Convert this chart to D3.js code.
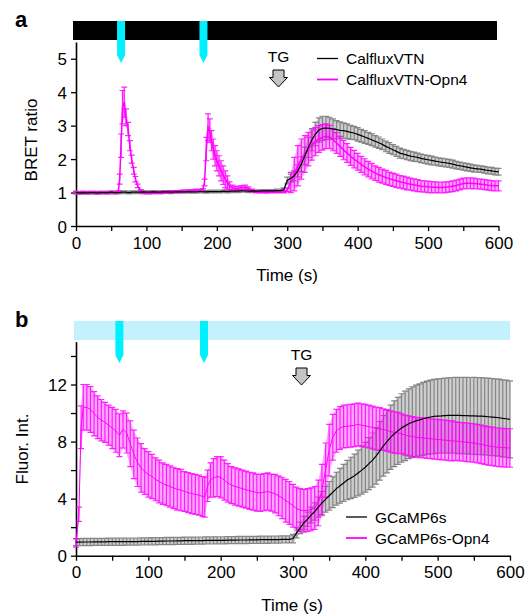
<!DOCTYPE html>
<html>
<head>
<meta charset="UTF-8">
<title>BRET and GCaMP6s traces</title>
<style>
  body { margin: 0; background: #fff; }
  svg text { font-family: "Liberation Sans", Arial, Helvetica, sans-serif; font-weight: normal; fill: #000; }
</style>
</head>
<body>
<script src="https://cdn.jsdelivr.net/npm/d3@7"></script>
<script>
// ---------- data ----------
// panel a: CalfluxVTN, sampled every 5 s
var aBlackTime = d3.range(0, 601, 5);
var aBlackMean = [
  1.00,0.99,1.00,0.99,1.00,1.00,0.99,1.00,1.00,1.00,1.01,1.00,1.00,1.01,1.01,1.00,1.01,1.01,1.01,1.02,
  1.01,1.01,1.02,1.01,1.01,1.02,1.02,1.01,1.02,1.02,1.02,1.02,1.03,1.02,1.02,1.03,1.03,1.02,1.03,1.03,
  1.03,1.03,1.04,1.03,1.04,1.04,1.04,1.05,1.05,1.04,1.05,1.04,1.04,1.05,1.05,1.05,1.05,1.06,1.06,
  1.08,1.36,1.43,1.50,1.65,1.85,2.10,2.35,2.58,2.75,2.87,2.92,2.93,2.92,2.90,2.88,2.86,2.85,2.83,2.80,2.78,
  2.74,2.70,2.66,2.62,2.58,2.53,2.49,2.44,2.38,2.33,2.28,2.23,2.18,2.15,2.12,2.09,2.07,2.05,2.02,2.00,
  1.98,1.96,1.94,1.92,1.90,1.89,1.87,1.85,1.82,1.80,1.78,1.76,1.74,1.72,1.71,1.70,1.68,1.66,1.65,1.63,
  1.62
];
var aBlackErr = [
  0.04,0.04,0.04,0.04,0.04,0.04,0.04,0.04,0.04,0.04,0.04,0.04,0.04,0.04,0.04,0.04,0.04,0.04,0.04,0.04,
  0.04,0.04,0.04,0.04,0.04,0.04,0.04,0.04,0.04,0.04,0.04,0.04,0.04,0.04,0.04,0.04,0.04,0.04,0.04,0.04,
  0.04,0.04,0.04,0.04,0.04,0.04,0.04,0.04,0.04,0.04,0.04,0.04,0.04,0.04,0.04,0.04,0.04,0.04,0.04,
  0.06,0.10,0.12,0.15,0.18,0.22,0.26,0.30,0.33,0.35,0.36,0.36,0.35,0.33,0.30,0.27,0.25,0.23,0.22,0.21,0.20,
  0.20,0.19,0.19,0.18,0.18,0.17,0.17,0.16,0.16,0.16,0.15,0.15,0.15,0.14,0.14,0.14,0.14,0.13,0.13,0.13,
  0.13,0.13,0.12,0.12,0.12,0.12,0.12,0.12,0.11,0.11,0.11,0.11,0.11,0.11,0.10,0.10,0.10,0.10,0.10,0.10,
  0.10
];

// panel a: CalfluxVTN-Opn4 (denser sampling around the light pulses)
var aMagTime = [].concat(
  d3.range(0, 60, 5),
  [60,62,64,66,68.5,71,74,76.5,79,82,84.5,87.5,92,96,100],
  d3.range(105, 180, 5),
  [180,182.5,185,187.5,190,192.5,195,197.5,200,203,206,209,212,215,218,222,226,230,235,240,245,250,255],
  d3.range(260, 601, 5)
);
var aMagMean = [
  1.00,0.99,1.00,1.00,0.99,1.00,0.99,1.00,1.00,0.99,1.00,1.00,
  1.02,1.40,2.40,3.55,3.70,3.25,2.90,2.40,2.00,1.65,1.40,1.20,1.05,1.00,0.99,
  0.99,1.00,1.00,1.00,1.01,1.01,1.02,1.03,1.03,1.04,1.05,1.05,1.06,1.07,1.07,
  1.08,1.30,2.30,2.95,2.85,2.55,2.30,2.10,1.95,1.80,1.65,1.52,1.40,1.30,1.20,1.14,1.12,1.13,1.15,1.16,1.12,1.06,1.03,
  1.02,1.02,1.01,1.02,1.02,1.02,1.02,1.02,
  1.08,1.30,1.55,1.80,2.00,2.15,2.30,2.42,2.52,2.60,2.65,2.68,2.66,2.58,2.48,2.38,2.27,2.18,2.08,2.00,
  1.92,1.84,1.77,1.70,1.64,1.58,1.53,1.49,1.45,1.41,1.38,1.35,1.32,1.30,1.27,1.25,1.23,1.21,1.19,1.18,
  1.17,1.16,1.16,1.15,1.15,1.16,1.17,1.19,1.21,1.24,1.27,1.28,1.28,1.27,1.26,1.25,1.24,1.22,1.21,1.20,
  1.20
];
var aMagErr = [
  0.03,0.03,0.03,0.03,0.03,0.03,0.03,0.03,0.03,0.03,0.03,0.03,
  0.03,0.15,0.35,0.50,0.45,0.25,0.20,0.15,0.12,0.10,0.08,0.05,0.04,0.03,0.03,
  0.03,0.03,0.03,0.03,0.03,0.03,0.03,0.03,0.03,0.03,0.03,0.03,0.03,0.03,0.03,
  0.04,0.10,0.35,0.40,0.35,0.30,0.30,0.30,0.30,0.30,0.30,0.28,0.25,0.20,0.12,0.08,0.06,0.06,0.06,0.06,0.05,0.04,0.03,
  0.03,0.03,0.03,0.03,0.03,0.03,0.03,0.03,
  0.05,0.30,0.50,0.60,0.60,0.55,0.50,0.45,0.42,0.40,0.38,0.37,0.35,0.33,0.31,0.30,0.29,0.28,0.27,0.26,
  0.25,0.24,0.24,0.23,0.23,0.22,0.22,0.21,0.21,0.20,0.20,0.20,0.19,0.19,0.19,0.18,0.18,0.18,0.17,0.17,
  0.17,0.17,0.16,0.16,0.16,0.16,0.16,0.16,0.16,0.16,0.16,0.16,0.16,0.16,0.15,0.15,0.15,0.15,0.15,0.15,
  0.15
];

// panel b: GCaMP6s, sampled every 5 s
var bBlackTime = d3.range(0, 601, 5);
var bBlackMean = [
  0.95,0.95,0.96,0.96,0.96,0.97,0.97,0.97,0.97,0.98,0.98,0.98,0.98,0.98,0.99,0.99,0.99,0.99,1.00,1.00,
  1.00,1.01,1.01,1.02,1.02,1.03,1.03,1.03,1.04,1.04,1.05,1.05,1.05,1.06,1.06,1.06,1.07,1.07,1.07,1.08,
  1.08,1.08,1.09,1.09,1.09,1.10,1.10,1.10,1.11,1.11,1.11,1.12,1.12,1.12,1.13,1.13,1.13,1.14,1.14,1.15,
  1.20,1.60,1.95,2.30,2.55,2.85,3.10,3.40,3.70,3.95,
  4.20,4.45,4.70,4.90,5.10,5.30,5.45,5.60,5.80,6.00,
  6.20,6.45,6.70,7.00,7.35,7.70,8.00,8.30,8.55,8.75,
  8.95,9.10,9.25,9.35,9.45,9.52,9.60,9.67,9.72,9.76,
  9.79,9.80,9.82,9.83,9.84,9.84,9.83,9.82,9.82,9.80,
  9.80,9.79,9.78,9.76,9.74,9.72,9.70,9.67,9.63,9.60,
  9.56
];
var bBlackErr = [
  0.25,0.25,0.25,0.25,0.25,0.25,0.25,0.25,0.25,0.25,0.25,0.25,0.25,0.25,0.25,0.25,0.25,0.25,0.25,0.25,
  0.25,0.25,0.25,0.25,0.25,0.25,0.25,0.25,0.25,0.25,0.25,0.25,0.25,0.25,0.25,0.25,0.25,0.25,0.25,0.25,
  0.25,0.25,0.25,0.25,0.25,0.25,0.25,0.25,0.25,0.25,0.25,0.25,0.25,0.25,0.25,0.25,0.25,0.25,0.25,0.25,
  0.30,0.35,0.40,0.45,0.50,0.55,0.60,0.70,0.80,0.90,
  1.00,1.08,1.15,1.22,1.30,1.38,1.45,1.52,1.60,1.68,
  1.75,1.82,1.90,1.98,2.05,2.12,2.20,2.25,2.30,2.35,
  2.40,2.43,2.45,2.48,2.50,2.52,2.55,2.57,2.58,2.60,
  2.60,2.62,2.63,2.64,2.65,2.66,2.67,2.68,2.68,2.69,
  2.70,2.70,2.70,2.70,2.70,2.70,2.70,2.70,2.70,2.70,
  2.70
];

// panel b: GCaMP6s-Opn4
var bMagTime = [].concat(
  [0, 4, 7, 10],
  d3.range(15, 176, 5),
  [178, 182, 186, 190],
  d3.range(195, 601, 5)
);
var bMagMean = [
  0.90,2.90,9.00,10.40,
  10.40,10.25,9.95,9.70,9.50,9.35,9.15,8.95,8.75,8.45,8.85,8.60,7.85,7.10,6.55,6.15,5.90,
  5.70,5.55,5.35,5.20,5.05,4.95,4.85,4.75,4.65,4.60,4.50,4.42,4.35,4.30,4.25,4.15,
  4.10,4.90,5.30,5.45,
  5.55,5.50,5.30,5.10,4.95,4.85,4.78,4.70,4.63,4.55,4.50,4.42,4.40,4.45,4.50,4.42,4.35,4.20,4.05,3.85,3.70,
  3.50,3.30,3.20,3.15,3.20,3.25,3.35,3.70,4.60,6.00,7.40,8.30,8.75,8.95,9.05,9.08,9.10,9.15,9.20,9.15,
  9.10,9.05,8.98,8.92,8.88,8.85,8.78,8.70,8.64,8.60,8.55,8.45,8.40,8.35,8.30,8.28,8.26,8.22,8.20,8.17,
  8.15,8.12,8.10,8.07,8.05,8.03,8.00,7.98,7.95,7.93,7.90,7.85,7.80,7.75,7.70,7.66,7.62,7.60,7.58,7.56,
  7.55
];
var bMagErr = [
  0.30,0.50,1.50,1.60,
  1.60,1.60,1.55,1.50,1.45,1.40,1.40,1.45,1.50,1.50,1.30,1.40,1.60,1.70,1.70,1.70,1.60,
  1.60,1.55,1.50,1.50,1.45,1.45,1.45,1.45,1.45,1.45,1.40,1.40,1.40,1.40,1.40,1.40,
  1.40,1.10,1.20,1.35,
  1.40,1.45,1.40,1.35,1.30,1.30,1.30,1.30,1.30,1.30,1.30,1.30,1.30,1.30,1.30,1.30,1.35,1.40,1.45,1.50,1.50,
  1.50,1.50,1.50,1.50,1.50,1.50,1.50,1.60,1.80,1.90,1.80,1.60,1.50,1.50,1.50,1.50,1.50,1.50,1.50,1.50,
  1.50,1.50,1.50,1.50,1.50,1.45,1.45,1.45,1.45,1.45,1.40,1.40,1.40,1.40,1.40,1.40,1.40,1.40,1.40,1.40,
  1.40,1.40,1.40,1.40,1.40,1.35,1.35,1.35,1.35,1.35,1.35,1.35,1.35,1.35,1.35,1.35,1.35,1.35,1.35,1.35,
  1.35
];

// light pulses (s)
var aLight = [64, 181];
var bLight = [60, 177];
var xTicks = d3.range(0, 601, 50);
var aYTicks = [0, 1, 2, 3, 4, 5];
var bYTicks = d3.range(0, 15, 2);
var bYLabels = [0, 4, 8, 12];

// ---------- drawing ----------
var svg = d3.select("body").append("svg")
  .attr("width", 530).attr("height", 616);

var MAG = "#ff00ff", GRAY = "#858585";

function zip(t, m, e) {
  return t.map(function(d, i) { return { t: d, v: m[i], e: e[i] }; });
}

function drawPanel(p) {
  var x = d3.scaleLinear().domain([0, 600]).range(p.xr);
  var y = d3.scaleLinear().domain(p.yd).range(p.yr);
  var g = svg.append("g");

  // stimulus bar on top
  g.append("rect")
    .attr("x", p.bar[0]).attr("y", p.bar[1])
    .attr("width", p.bar[2] - p.bar[0]).attr("height", p.bar[3] - p.bar[1])
    .attr("fill", p.barColor);
  g.selectAll(".light").data(p.light).enter().append("path")
    .attr("class", "light")
    .attr("fill", "#00f0ff")
    .attr("d", function(d) {
      var cx = x(d), t = p.bar[1], b = p.bar[1] + 34;
      return "M" + (cx - 4) + "," + t + "H" + (cx + 4) + "V" + b + "L" + cx + "," + (b + 8) + "L" + (cx - 4) + "," + b + "Z";
    });

  // axes
  var ya = d3.axisLeft(y).tickValues(p.yTicks).tickSize(5).tickSizeOuter(0)
    .tickFormat(function(d) { return p.yLabels.indexOf(d) >= 0 ? d : ""; });
  var yg = g.append("g").attr("transform", "translate(" + p.xr[0] + ",0)").call(ya);
  var xa = d3.axisBottom(x).tickValues(xTicks).tickSize(5).tickSizeOuter(0)
    .tickFormat(function(d) { return d % 100 === 0 ? d : ""; });
  var xg = g.append("g").attr("transform", "translate(0," + p.yr[0] + ")").call(xa);
  [yg, xg].forEach(function(a) {
    a.select(".domain").attr("stroke-width", 1.6);
    a.selectAll(".tick line").attr("stroke-width", 1.3);
    a.selectAll("text").style("font-size", "17px")
      .style("font-family", "'Liberation Sans', Arial, sans-serif");
  });
  yg.selectAll("text").attr("x", -9).attr("dy", "0.36em");
  xg.selectAll("text").attr("y", 9).attr("dy", "0.8em");

  var blk = zip(p.black[0], p.black[1], p.black[2]);
  var mag = zip(p.mag[0], p.mag[1], p.mag[2]);

  // SEM as a faint band plus the error bars themselves
  var band = d3.area().x(function(d) { return x(d.t); })
    .y0(function(d) { return y(d.v - d.e); }).y1(function(d) { return y(d.v + d.e); });
  function bars(data, color, op) {
    g.append("path").datum(data).attr("fill", color).attr("opacity", op * 0.4).attr("d", band);
    g.append("path")
      .attr("fill", "none").attr("stroke", color).attr("stroke-width", 1.2).attr("opacity", op)
      .attr("d", data.map(function(d) {
        var px = x(d.t), y0 = y(d.v - d.e), y1 = y(d.v + d.e);
        return "M" + px + "," + y0 + "V" + y1 +
          "M" + (px - 3) + "," + y0 + "h6M" + (px - 3) + "," + y1 + "h6";
      }).join(""));
  }
  var line = d3.line().x(function(d) { return x(d.t); }).y(function(d) { return y(d.v); });
  bars(blk, GRAY, 1);
  bars(mag, MAG, 0.85);
  g.append("path").datum(mag).attr("fill", "none").attr("stroke", MAG).attr("stroke-width", p.magW).attr("d", line);
  g.append("path").datum(blk).attr("fill", "none").attr("stroke", "#000").attr("stroke-width", 1.2).attr("d", line);

  // TG arrow
  var ax = p.tg[0], ay = p.tg[1];
  g.append("text").attr("x", ax).attr("y", ay - 8).attr("text-anchor", "middle")
    .style("font-size", "15.5px").text("TG");
  g.append("path")
    .attr("fill", "#c4c4c4").attr("stroke", "#000").attr("stroke-width", 1)
    .attr("d", "M" + (ax - 5.5) + "," + ay + "h11v7.5h3.5L" + ax + "," + (ay + 17) +
      "L" + (ax - 9) + "," + (ay + 7.5) + "h3.5Z");

  // legend
  p.legend.forEach(function(l, i) {
    var ly = p.leg[1] + i * 21;
    g.append("line").attr("x1", p.leg[0]).attr("x2", p.leg[0] + 21)
      .attr("y1", ly).attr("y2", ly)
      .attr("stroke", i === 0 ? "#000" : MAG).attr("stroke-width", i === 0 ? 1.3 : 1.8);
    g.append("text").attr("x", p.leg[0] + 29).attr("y", ly).attr("dy", "0.36em")
      .style("font-size", "15.5px").text(l);
  });

  // titles
  g.append("text").attr("x", 15).attr("y", p.bar[1] + 6)
    .style("font-size", "22px").style("font-weight", "bold").text(p.letter);
  g.append("text")
    .attr("transform", "translate(" + p.ylab[0] + "," + p.ylab[1] + ") rotate(-90)")
    .attr("text-anchor", "middle").style("font-size", "17px").text(p.ytitle);
  g.append("text").attr("x", p.xlab[0]).attr("y", p.xlab[1]).attr("text-anchor", "middle")
    .style("font-size", "17px").text("Time (s)");
}

drawPanel({
  letter: "a", xr: [76, 498.5], yr: [226, 42], yd: [0, 5.5],
  yTicks: aYTicks, yLabels: aYTicks, magW: 1.5,
  bar: [73, 21, 497, 40], barColor: "#000", light: aLight,
  black: [aBlackTime, aBlackMean, aBlackErr], mag: [aMagTime, aMagMean, aMagErr],
  tg: [278.5, 70], leg: [317, 58.5], legend: ["CalfluxVTN", "CalfluxVTN-Opn4"],
  ytitle: "BRET ratio", ylab: [37, 140], xlab: [287, 281]
});
drawPanel({
  letter: "b", xr: [76, 510], yr: [555.7, 341.7], yd: [0, 15],
  yTicks: bYTicks, yLabels: bYLabels, magW: 1,
  bar: [74, 321, 510, 340], barColor: "#c4f2fc", light: bLight,
  black: [bBlackTime, bBlackMean, bBlackErr], mag: [bMagTime, bMagMean, bMagErr],
  tg: [301.5, 368], leg: [346, 517], legend: ["GCaMP6s", "GCaMP6s-Opn4"],
  ytitle: "Fluor. Int.", ylab: [28, 449], xlab: [292, 611]
});
</script>
</body>
</html>
